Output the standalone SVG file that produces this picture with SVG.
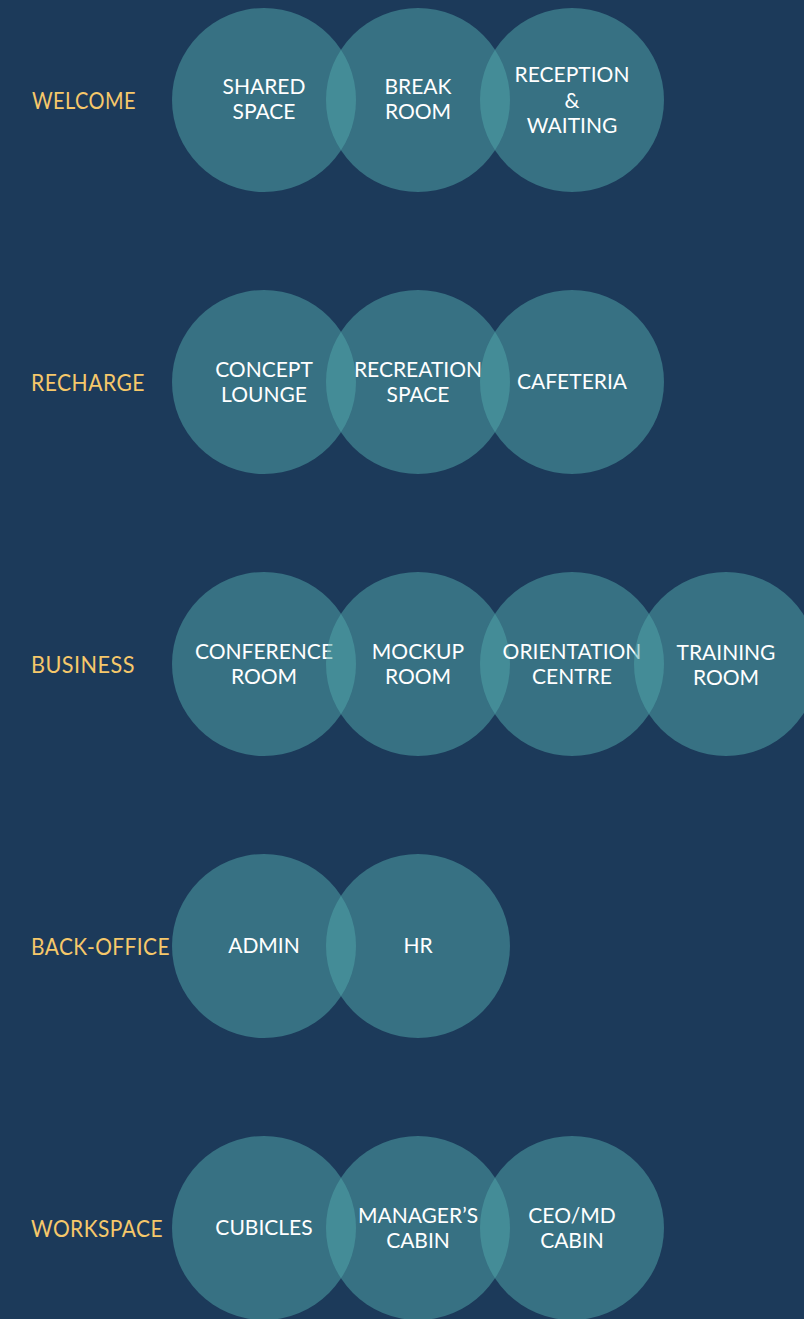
<svg xmlns="http://www.w3.org/2000/svg" width="804" height="1319" viewBox="0 0 804 1319">
<style>
.bg{fill:#1c3a5a}
.c{fill:#52a7ac;fill-opacity:0.5}
.lbl{font-family:Lato,"Open Sans",sans-serif;font-size:23px;fill:#f6c86a;letter-spacing:0.5px}
.t{font-family:Lato,"Open Sans",sans-serif;font-size:21px;font-weight:400;fill:#ffffff;text-anchor:middle}
</style>
<rect class="bg" x="0" y="0" width="804" height="1319"/>
<g id="row-welcome">
<text class="lbl" x="32" y="109" textLength="104" lengthAdjust="spacingAndGlyphs">WELCOME</text>
<g id="shared-space"><circle class="c" cx="264" cy="100" r="92"/><text class="t" x="264" y="94">SHARED</text><text class="t" x="264" y="119">SPACE</text></g>
<g id="break-room"><circle class="c" cx="418" cy="100" r="92"/><text class="t" x="418" y="94">BREAK</text><text class="t" x="418" y="119">ROOM</text></g>
<g id="reception"><circle class="c" cx="572" cy="100" r="92"/><text class="t" x="572" y="82">RECEPTION</text><text class="t" x="572" y="107.5">&amp;</text><text class="t" x="572" y="133">WAITING</text></g>
</g>
<g id="row-recharge">
<text class="lbl" x="31" y="391" textLength="114" lengthAdjust="spacingAndGlyphs">RECHARGE</text>
<g id="concept-lounge"><circle class="c" cx="264" cy="382" r="92"/><text class="t" x="264" y="377">CONCEPT</text><text class="t" x="264" y="402">LOUNGE</text></g>
<g id="recreation-space"><circle class="c" cx="418" cy="382" r="92"/><text class="t" x="418" y="377">RECREATION</text><text class="t" x="418" y="402">SPACE</text></g>
<g id="cafeteria"><circle class="c" cx="572" cy="382" r="92"/><text class="t" x="572" y="389">CAFETERIA</text></g>
</g>
<g id="row-business">
<text class="lbl" x="31" y="673" textLength="104" lengthAdjust="spacingAndGlyphs">BUSINESS</text>
<g id="conference-room"><circle class="c" cx="264" cy="664" r="92"/><text class="t" x="264" y="659">CONFERENCE</text><text class="t" x="264" y="684">ROOM</text></g>
<g id="mockup-room"><circle class="c" cx="418" cy="664" r="92"/><text class="t" x="418" y="659">MOCKUP</text><text class="t" x="418" y="684">ROOM</text></g>
<g id="orientation-centre"><circle class="c" cx="572" cy="664" r="92"/><text class="t" x="572" y="659">ORIENTATION</text><text class="t" x="572" y="684">CENTRE</text></g>
<g id="training-room"><circle class="c" cx="726" cy="664" r="92"/><text class="t" x="726" y="660">TRAINING</text><text class="t" x="726" y="685">ROOM</text></g>
</g>
<g id="row-backoffice">
<text class="lbl" x="31" y="955" textLength="139" lengthAdjust="spacingAndGlyphs">BACK-OFFICE</text>
<g id="admin"><circle class="c" cx="264" cy="946" r="92"/><text class="t" x="264" y="953">ADMIN</text></g>
<g id="hr"><circle class="c" cx="418" cy="946" r="92"/><text class="t" x="418" y="953">HR</text></g>
</g>
<g id="row-workspace">
<text class="lbl" x="31" y="1237" textLength="132" lengthAdjust="spacingAndGlyphs">WORKSPACE</text>
<g id="cubicles"><circle class="c" cx="264" cy="1228" r="92"/><text class="t" x="264" y="1235">CUBICLES</text></g>
<g id="managers-cabin"><circle class="c" cx="418" cy="1228" r="92"/><text class="t" x="418" y="1223">MANAGER’S</text><text class="t" x="418" y="1248">CABIN</text></g>
<g id="ceo-cabin"><circle class="c" cx="572" cy="1228" r="92"/><text class="t" x="572" y="1223">CEO/MD</text><text class="t" x="572" y="1248">CABIN</text></g>
</g>
<g id="connectors"/>
</svg>
